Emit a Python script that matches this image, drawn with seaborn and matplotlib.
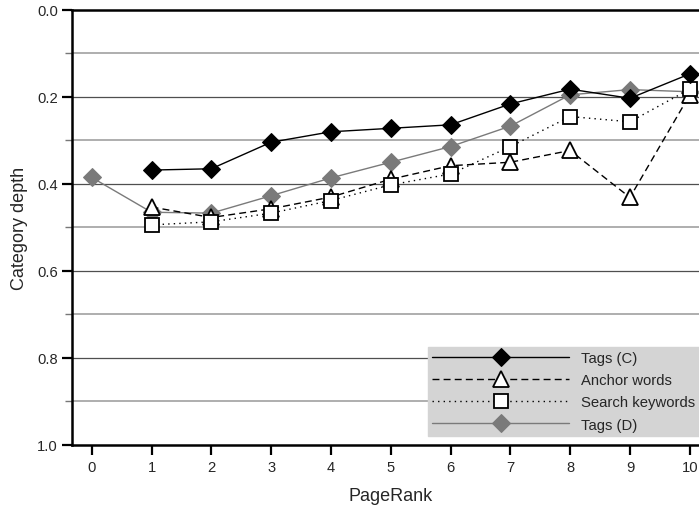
import numpy as np
import pandas as pd
import seaborn as sns
import matplotlib
matplotlib.use("Agg")
from matplotlib import pyplot as plt
from matplotlib.ticker import MultipleLocator

sns.set_style("white")
plt.rcParams['font.family'] = ['Liberation Sans', 'DejaVu Sans']

# data
pagerank_c = [1, 2, 3, 4, 5, 6, 7, 8, 9, 10]
tags_c = [0.368, 0.365, 0.304, 0.280, 0.272, 0.264, 0.216, 0.182, 0.203, 0.147]
anchor_words = [0.453, 0.477, 0.457, 0.430, 0.389, 0.358, 0.350, 0.323, 0.431, 0.195]
search_keywords = [0.494, 0.487, 0.467, 0.438, 0.402, 0.377, 0.314, 0.245, 0.257, 0.182]
pagerank_d = [0, 1, 2, 3, 4, 5, 6, 7, 8, 9, 10]
tags_d = [0.385, 0.465, 0.467, 0.427, 0.386, 0.350, 0.314, 0.267, 0.195, 0.183, 0.188]

xticks = list(range(11))
yticks = [0.0, 0.2, 0.4, 0.6, 0.8, 1.0]

df_c = pd.DataFrame({'PageRank': pagerank_c, 'Tags (C)': tags_c,
                     'Anchor words': anchor_words, 'Search keywords': search_keywords})
df_d = pd.DataFrame({'PageRank': pagerank_d, 'Tags (D)': tags_d})

fig = plt.figure(figsize=(6.99, 5.06), dpi=100)
ax = fig.add_axes([0.103, 0.1186, 0.912, 0.8597])

# grid lines
for v in [0.1, 0.3, 0.5, 0.7, 0.9]:
    ax.axhline(v, color='#a8a8a8', lw=1.3, zorder=0)
for v in [0.2, 0.4, 0.6, 0.8]:
    ax.axhline(v, color='#4f4f4f', lw=0.9, zorder=0)

sns.lineplot(data=df_d, x='PageRank', y='Tags (D)', ax=ax, color='#7a7a7a', lw=1.0,
             marker='D', markersize=9.0, markeredgecolor='#7a7a7a', label='Tags (D)', zorder=3)
sns.lineplot(data=df_c, x='PageRank', y='Anchor words', ax=ax, color='black', lw=1.0,
             linestyle=(0, (5, 3)), marker='^', markersize=11, markerfacecolor='white',
             markeredgecolor='black', markeredgewidth=1.3, label='Anchor words', zorder=4)
sns.lineplot(data=df_c, x='PageRank', y='Search keywords', ax=ax, color='black', lw=1.0,
             linestyle=(0, (1, 3)), marker='s', markersize=9.8, markerfacecolor='white',
             markeredgecolor='black', markeredgewidth=1.3, label='Search keywords', zorder=5)
sns.lineplot(data=df_c, x='PageRank', y='Tags (C)', ax=ax, color='black', lw=1.0,
             marker='D', markersize=9.0, markeredgecolor='black', label='Tags (C)', zorder=6)

ax.set_xlim(-0.33, 10.33)
ax.set_ylim(1.0, 0.0)
ax.set_xticks(xticks)
ax.set_yticks(yticks)
ax.set_yticklabels(['%.1f' % t for t in yticks])
ax.yaxis.set_minor_locator(MultipleLocator(0.1))
ax.tick_params(axis='both', which='major', direction='out', length=7, width=1.6,
               labelsize=10.6, color='black')
ax.tick_params(axis='y', which='minor', direction='out', length=5, width=1.0, color='#777777', left=True)
ax.tick_params(axis='x', which='major', bottom=True, pad=4)
ax.tick_params(axis='y', which='major', left=True, pad=3)

for s in ['top', 'left', 'bottom']:
    ax.spines[s].set_linewidth(1.8)
    ax.spines[s].set_color('black')
ax.spines['right'].set_visible(False)

ax.set_xlabel('PageRank', fontsize=13, labelpad=9)
ax.set_ylabel('Category depth', fontsize=13, labelpad=7)

handles, labels = ax.get_legend_handles_labels()
order = ['Tags (C)', 'Anchor words', 'Search keywords', 'Tags (D)']
hmap = dict(zip(labels, handles))
leg = ax.legend([hmap[k] for k in order], order, loc='lower left',
                bbox_to_anchor=(0.612, 0.1364), bbox_transform=fig.transFigure,
                borderaxespad=0, frameon=True, fancybox=False, facecolor='#d4d4d4',
                edgecolor='#d4d4d4', framealpha=1, fontsize=10.7, handlelength=9.2,
                handletextpad=0.8, labelspacing=0.55, borderpad=0.3)
leg.set_zorder(10)

fig.savefig('out.png', dpi=100)
